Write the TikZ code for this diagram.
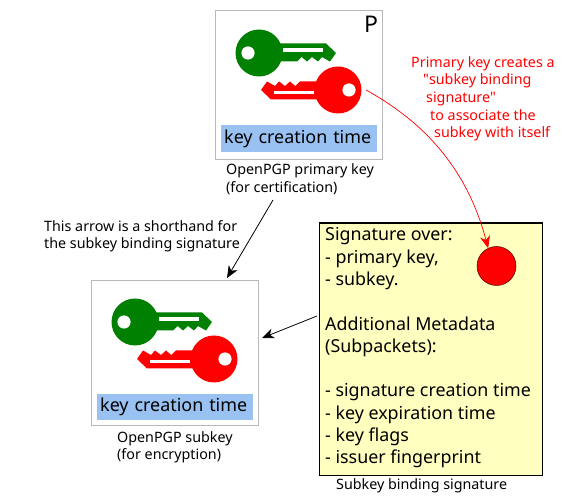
\documentclass[tikz,border=0pt]{standalone}
\usepackage{fontspec}
\setmainfont{Noto Sans}
\newfontfamily\plainfont{Noto Sans}
\usepackage{tikz}
\usetikzlibrary{arrows.meta}
\definecolor{keygreen}{HTML}{008000}
\definecolor{labelblue}{HTML}{99C1F1}
\definecolor{sigyellow}{HTML}{FFFFC0}
\definecolor{boxgray}{HTML}{B8B8B8}
\newcommand{\straightq}{{\plainfont\symbol{34}}}
\newcommand{\onekey}[2]{%
\begin{scope}[shift={(#1)},rotate=#2]
\fill (0,0) circle (23.5);
\fill (20,-9.5) -- (67,-9.5) -- (77,0) -- (71,8.5) -- (63,4) -- (59,8.5) -- (53,4) -- (48,8.5) -- (42.7,4) -- (38,8.5) -- (20,8.5) -- cycle;
\fill[white] (-11,0) circle (6.6);
\fill[white] (24,-4.5) -- (64,-4.5) -- (64,-1.2) -- (24,-1.2) -- cycle;
\end{scope}}
\begin{document}
\begin{tikzpicture}[x=1pt,y=-1pt,>={Stealth[length=12pt,width=10pt,inset=3.5pt]},font=\fontsize{14.3}{17.7}\selectfont]
\tikzstyle{keybox}=[draw=boxgray,line width=0.9pt,fill=white,anchor=north west]
\tikzstyle{timelabel}=[fill=labelblue,inner xsep=3pt,inner ysep=0pt,text width=150pt,font=\fontsize{17.9}{22}\selectfont,anchor=north west]
\tikzstyle{caption}=[align=left,anchor=north west,inner sep=0pt]
\useasboundingbox (0,0) rectangle (565,502);
\node[keybox,minimum width=167pt,minimum height=149pt] (primarybox) at (215,10.5) {};
\node[keybox,minimum width=167pt,minimum height=145pt] (subbox) at (91,280) {};
\begin{scope}[keygreen]
\onekey{259,53}{0}
\onekey{135,322}{0}
\end{scope}
\begin{scope}[red]
\onekey{338,90}{180}
\onekey{214,359}{180}
\end{scope}
\node[timelabel,minimum height=27pt] (primarytime) at (221,125) {key creation time};
\node[timelabel,minimum height=26pt] (subtime) at (97,394) {key creation time};
\node[font=\fontsize{23}{26}\selectfont] (pmark) at (371,24) {P};
\node[caption] (primarycap) at (226,163.5) {OpenPGP primary key\\(for certification)};
\node[caption] (subcap) at (117,431) {OpenPGP subkey\\(for encryption)};
\node[caption] (arrownote) at (44,220) {This arrow is a shorthand for\\the subkey binding signature};
\node[caption,text=red] (rednote) at (411,56) {Primary key creates a\\
\hspace*{12pt}\straightq subkey binding\\
\hspace*{15pt}signature\straightq\\
\hspace*{19pt}to associate the\\
\hspace*{23pt}subkey with itself};
\node[draw,fill=sigyellow,line width=1.2pt,anchor=north west,minimum width=223pt,minimum height=252pt] (sigbox) at (319,222.5) {};
\node[caption,font=\fontsize{17.85}{22.3}\selectfont] (sigtext) at (325,227.5) {Signature over:\\
- primary key,\\
- subkey.\\[22.3pt]
Additional Metadata\\
(Subpackets):\\[22.3pt]
- signature creation time\\
- key expiration time\\
- key flags\\
- issuer fingerprint};
\node[caption] (sigcap) at (336,478) {Subkey binding signature};
\node[draw=black!70!red,fill=red,circle,line width=0.5pt,minimum size=39pt,inner sep=0pt] (sigdot) at (496.5,266) {};
\coordinate (redkeyedge) at (366,90);
\coordinate (primaryfoot) at (273,200);
\coordinate (subtop) at (227,278);
\coordinate (sigleft) at (317,316);
\coordinate (subright) at (262,338);
\draw[->,red,line width=0.7pt] (redkeyedge) .. controls (435,128) and (470,180) .. (sigdot.115);
\draw[->,line width=0.8pt] (primaryfoot) -- (subtop);
\draw[->,line width=0.8pt] (sigleft) -- (subright);
\end{tikzpicture}
\end{document}
